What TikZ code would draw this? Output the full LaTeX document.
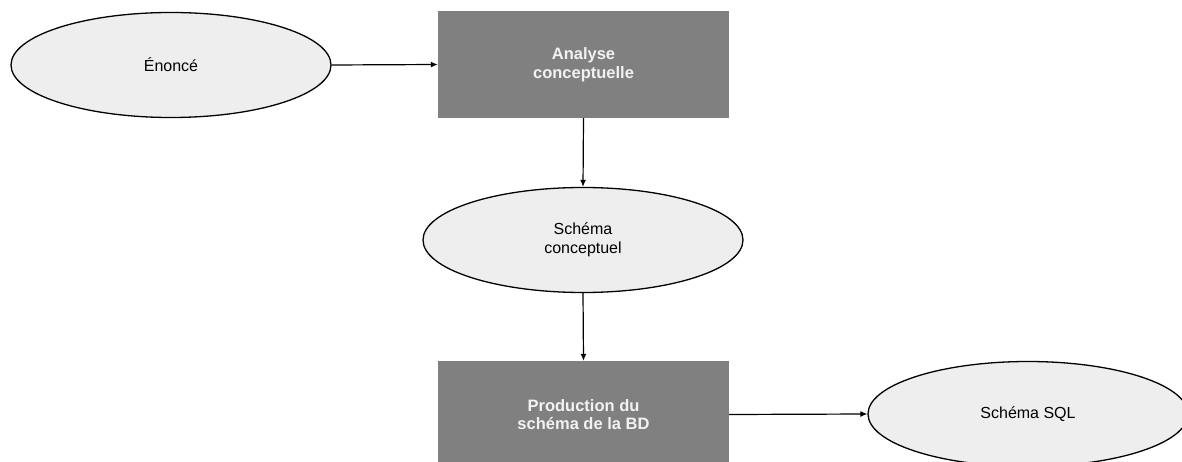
\documentclass[tikz,border=0pt]{standalone}
\usepackage{fontspec}
\setmainfont{Liberation Sans}
\usetikzlibrary{arrows.meta,shapes.geometric}
\definecolor{boxgray}{HTML}{808080}
\definecolor{ellfill}{HTML}{EEEEEE}
\definecolor{boxtext}{HTML}{F2F2F2}
\begin{document}
\begin{tikzpicture}[x=1pt,y=-1pt,
  ellnode/.style={ellipse,draw=black,line width=1.3pt,fill=ellfill,minimum width=320pt,minimum height=105pt,inner sep=0pt,align=center,font=\fontsize{16}{18.5}\selectfont},
  procbox/.style={rectangle,fill=boxgray,minimum width=291pt,minimum height=107pt,inner sep=0pt,align=center,text=boxtext,font=\fontsize{16.5}{18.5}\selectfont\bfseries},
  conn/.style={draw=black,line width=1.2pt,-{Latex[length=7pt,width=6pt]}}]
\useasboundingbox (0,0) rectangle (1182,462);
\clip (0,0) rectangle (1182,462);
\fill[white] (0,0) rectangle (1182,462);
\node[ellnode] (enonce) at (171,65) {Énoncé};
\node[procbox] (analyse) at (583.5,64.5) {Analyse\\conceptuelle};
\node[ellnode] (schconc) at (583,240) {Schéma\\conceptuel};
\node[procbox] (prod) at (583.5,414.5) {Production du\\schéma de la BD};
\node[ellnode] (sql) at (1028,414) {Schéma SQL};
\draw[conn] (enonce.east) -- (analyse.west);
\draw[conn] (analyse.south) -- (schconc.north);
\draw[conn] (schconc.south) -- (prod.north);
\draw[conn] (prod.east) -- (sql.west);
\end{tikzpicture}
\end{document}
